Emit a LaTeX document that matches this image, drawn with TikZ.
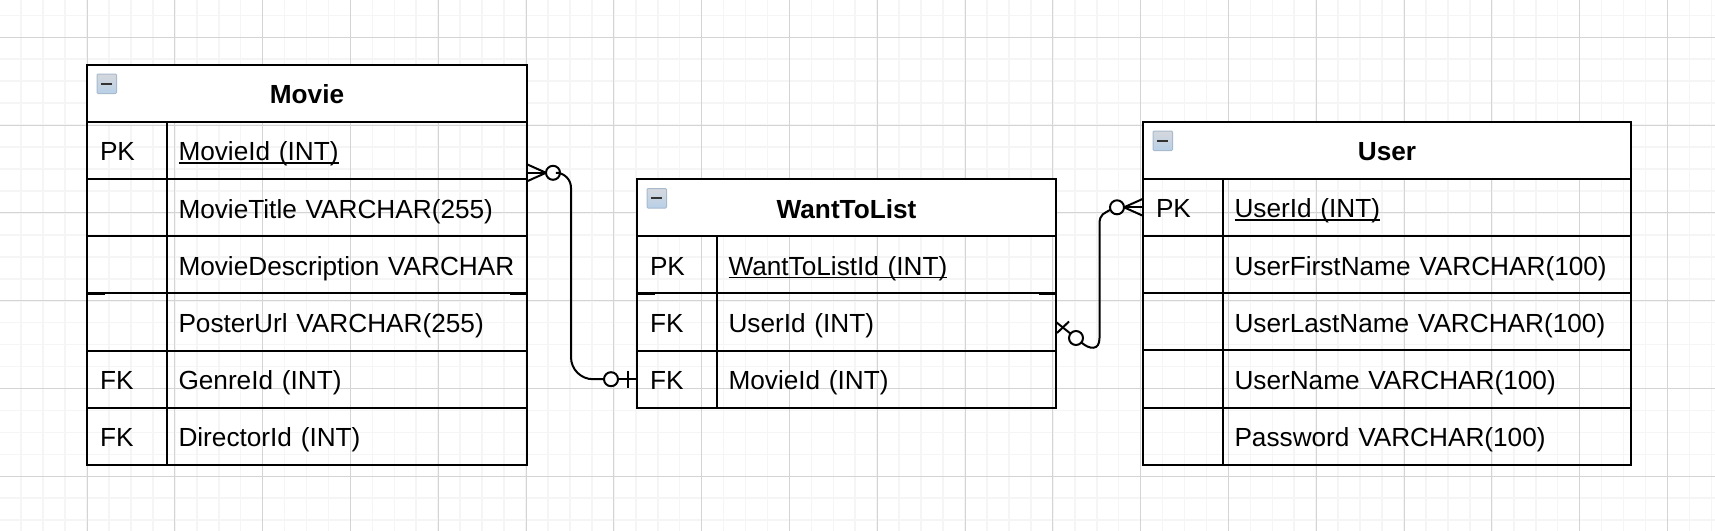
\documentclass[tikz,border=0pt]{standalone}
\usepackage{fontspec}
\setmainfont{Liberation Sans}
\usetikzlibrary{arrows.meta, positioning, calc}
\definecolor{colorGridMinor}{RGB}{245, 245, 245}
\definecolor{colorGridMajor}{RGB}{212, 212, 212}
\definecolor{colorIconTop}{RGB}{214, 216, 220}
\definecolor{colorIconBottom}{RGB}{184, 208, 232}
\definecolor{colorIconBorder}{RGB}{168, 186, 206}
\newcommand{\keyfield}[1]{\leavevmode\setbox0=\hbox{#1}\rlap{\rule[-2.9pt]{\wd0}{1.6pt}}\box0}

\begin{document}
\begin{tikzpicture}[
    x=1pt, y=1pt,
    every node/.style={font=\fontsize{26.2}{30}\selectfont, outer sep=0pt},
    node distance=0pt and 0pt,
    cell/.style={draw=black, line width=2pt, minimum height=57.2pt, text height=21pt, text depth=0pt, inner ysep=0pt, align=left},
    keycell/.style={cell, text width=54pt, inner xsep=13pt},
    fieldcell/.style={cell, text width=#1, inner xsep=11.5pt},
    titlecell/.style={draw=black, fill=white, line width=2pt, minimum width=#1, minimum height=57.2pt, text height=21pt, text depth=0pt, inner ysep=0pt, font=\fontsize{26.2}{30}\selectfont\bfseries},
    collapseicon/.style={
        draw=colorIconBorder, top color=colorIconTop, bottom color=colorIconBottom, rounded corners=1pt,
        minimum size=19.5pt, inner sep=0pt, anchor=north west, line width=1pt,
        path picture={\draw[black!80, line width=2pt] ([xshift=-5.5pt]path picture bounding box.center) -- ([xshift=5.5pt]path picture bounding box.center);}
    },
    erdot/.style={draw=black, fill=white, circle, line width=2pt, minimum size=14pt, inner sep=0pt},
    link/.style={draw=black, line width=2pt},
    seam/.style={draw=black, line width=2.6pt}
]
    \useasboundingbox (0,0) rectangle (1715,-530);

    % page grid
    \begin{scope}[xshift=-0.8pt, yshift=-37.3pt]
        \draw[colorGridMinor, line width=1.6pt, step=21.95pt] (-30,60) grid (1740,-510);
        \draw[colorGridMajor, line width=1pt, step=87.8pt] (-30,60) grid (1740,-510);
    \end{scope}

    % Movie
    \node[titlecell=440pt, anchor=north west] (movieTitle) at (87,-64.5) {Movie};
    \node[keycell, below right=0pt and 0pt of movieTitle.south west] (movieKey1) {PK};
    \node[keycell, below=of movieKey1] (movieKey2) {\strut};
    \node[keycell, below=of movieKey2] (movieKey3) {\strut};
    \node[keycell, below=of movieKey3] (movieKey4) {\strut};
    \node[keycell, below=of movieKey4] (movieKey5) {FK};
    \node[keycell, below=of movieKey5] (movieKey6) {FK};
    \node[fieldcell=337pt, right=of movieKey1] (movieField1) {\keyfield{MovieId (INT)}};
    \node[fieldcell=337pt, right=of movieKey2] (movieField2) {MovieTitle VARCHAR(255)};
    \node[fieldcell=337pt, right=of movieKey3] (movieField3) {\mbox{MovieDescription VARCHAR}};
    \node[fieldcell=337pt, right=of movieKey4] (movieField4) {PosterUrl VARCHAR(255)};
    \node[fieldcell=337pt, right=of movieKey5] (movieField5) {GenreId (INT)};
    \node[fieldcell=337pt, right=of movieKey6] (movieField6) {DirectorId (INT)};
    \node[collapseicon] (movieIcon) at ([shift={(10,-9.5)}]movieTitle.north west) {};

    % WantToList
    \node[titlecell=419pt, anchor=north west] (wantTitle) at (637,-179) {WantToList};
    \node[keycell, below right=0pt and 0pt of wantTitle.south west] (wantKey1) {PK};
    \node[keycell, below=of wantKey1] (wantKey2) {FK};
    \node[keycell, below=of wantKey2] (wantKey3) {FK};
    \node[fieldcell=316pt, right=of wantKey1] (wantField1) {\keyfield{WantToListId (INT)}};
    \node[fieldcell=316pt, right=of wantKey2] (wantField2) {UserId (INT)};
    \node[fieldcell=316pt, right=of wantKey3] (wantField3) {MovieId (INT)};
    \node[collapseicon] (wantIcon) at ([shift={(10,-9.5)}]wantTitle.north west) {};

    % User
    \node[titlecell=488pt, anchor=north west] (userTitle) at (1143,-121.5) {User};
    \node[keycell, below right=0pt and 0pt of userTitle.south west] (userKey1) {PK};
    \node[keycell, below=of userKey1] (userKey2) {\strut};
    \node[keycell, below=of userKey2] (userKey3) {\strut};
    \node[keycell, below=of userKey3] (userKey4) {\strut};
    \node[keycell, below=of userKey4] (userKey5) {\strut};
    \node[fieldcell=385pt, right=of userKey1] (userField1) {\keyfield{UserId (INT)}};
    \node[fieldcell=385pt, right=of userKey2] (userField2) {UserFirstName VARCHAR(100)};
    \node[fieldcell=385pt, right=of userKey3] (userField3) {UserLastName VARCHAR(100)};
    \node[fieldcell=385pt, right=of userKey4] (userField4) {UserName VARCHAR(100)};
    \node[fieldcell=385pt, right=of userKey5] (userField5) {Password VARCHAR(100)};
    \node[collapseicon] (userIcon) at ([shift={(10,-9.5)}]userTitle.north west) {};

    % Movie to WantToList
    \coordinate (movieOut) at ([yshift=-22.5pt]movieField1.east);
    \node[erdot, right=19pt of movieOut] (dotMovie) {};
    \node[erdot, left=19pt of wantKey3] (dotWantMovie) {};
    \coordinate (movieBus) at ([xshift=44pt]movieOut);
    \draw[link] (movieOut) -- (dotMovie.west);
    \draw[link] ([yshift=8.5pt]movieOut) -- (dotMovie.west);
    \draw[link] ([yshift=-8.5pt]movieOut) -- (dotMovie.west);
    \draw[link] (dotMovie.east) [rounded corners=15pt] -- (movieBus) [rounded corners=22pt] -- (movieBus |- dotWantMovie) [sharp corners] -- (dotWantMovie.west);
    \draw[link] (dotWantMovie.east) -- (wantKey3.west);
    \draw[link] ([shift={(-9,8.5)}]wantKey3.west) -- ([shift={(-9,-8.5)}]wantKey3.west);

    % WantToList to User
    \node[erdot] (dotWantUser) at ([shift={(20,-16)}]wantField2.east) {};
    \node[erdot, left=19pt of userKey1] (dotUser) {};
    \coordinate (wantBus) at ([shift={(43.5,-16)}]wantField2.east);
    \coordinate (userBus) at ($(wantBus |- dotUser)+(0,-17)$);
    \draw[link] (wantField2.east) -- (dotWantUser);
    \draw[link] ([shift={(1,-11)}]wantField2.east) -- ([shift={(13,0.5)}]wantField2.east);
    \draw[link] (dotWantUser.-40) .. controls +(8,-7) and ([yshift=-13pt]wantBus) .. (wantBus) -- (userBus) .. controls +(0,11) and +(-6,-4) .. (dotUser.-160);
    \draw[link] (dotUser.east) -- (userKey1.west);
    \draw[link] ([yshift=8.5pt]userKey1.west) -- (dotUser.east);
    \draw[link] ([yshift=-8.5pt]userKey1.west) -- (dotUser.east);

    % heavier ends of the fourth rule
    \draw[seam] (movieKey3.south west) -- ++(18,0);
    \draw[seam] (movieField3.south east) -- ++(-17,0);
    \draw[seam] (wantKey1.south west) -- ++(18,0);
    \draw[seam] (wantField1.south east) -- ++(-17,0);
    \draw[seam] (userKey2.south west) -- ++(18,0);
    \draw[seam] (userField2.south east) -- ++(-17,0);
\end{tikzpicture}
\end{document}
